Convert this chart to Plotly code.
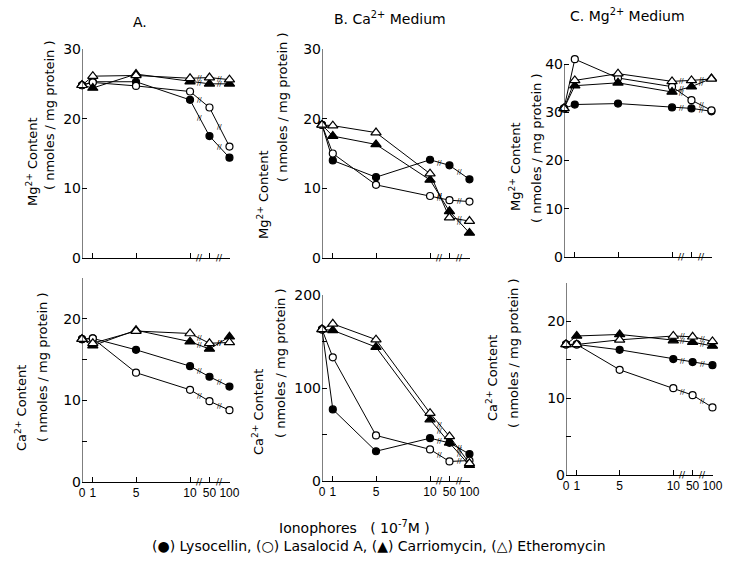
import plotly.graph_objects as go

# ---------------- data ----------------
concentrations = [0, 1, 5, 10, 50, 100]          # ionophores (10^-7 M)
tick_labels = ["0", "1", "5", "10", "50", "100"]
series_names = ["Lysocellin", "Lasalocid A", "Carriomycin", "Etheromycin"]

# Panel A (top: Mg2+ content)
a_mg_lysocellin = [24.8, 25.3, 25.3, 22.7, 17.5, 14.4]
a_mg_lasalocid = [24.8, 25.2, 24.7, 23.9, 21.6, 16.0]
a_mg_carriomycin = [24.8, 24.4, 26.4, 25.3, 25.0, 25.0]
a_mg_etheromycin = [24.8, 26.1, 26.2, 25.8, 25.9, 25.6]
# Panel A (bottom: Ca2+ content)
a_ca_lysocellin = [17.5, 17.6, 16.2, 14.2, 12.9, 11.7]
a_ca_lasalocid = [17.5, 17.6, 13.4, 11.3, 9.9, 8.8]
a_ca_carriomycin = [17.5, 16.7, 18.6, 17.2, 16.3, 17.8]
a_ca_etheromycin = [17.5, 17.0, 18.5, 18.2, 17.0, 17.1]

# Panel B, Ca2+ medium (top: Mg2+ content)
b_mg_lysocellin = [19.1, 14.0, 11.6, 14.1, 13.3, 11.3]
b_mg_lasalocid = [19.1, 15.0, 10.5, 8.9, 8.3, 8.1]
b_mg_carriomycin = [19.1, 17.5, 16.3, 11.2, 6.7, 3.6]
b_mg_etheromycin = [19.1, 19.0, 18.0, 12.1, 5.8, 5.3]
# Panel B (bottom: Ca2+ content)
b_ca_lysocellin = [163, 77, 32, 46, 41, 29]
b_ca_lasalocid = [163, 133, 49, 34, 21, 22]
b_ca_carriomycin = [163, 162, 144, 66, 41, 17]
b_ca_etheromycin = [163, 169, 152, 73, 48, 19]

# Panel C, Mg2+ medium (top: Mg2+ content)
c_mg_lysocellin = [30.8, 31.6, 31.8, 31.0, 30.8, 30.2]
c_mg_lasalocid = [30.8, 41.0, 37.1, 35.3, 32.5, 30.4]
c_mg_carriomycin = [30.8, 35.5, 36.1, 34.2, 35.3, 37.0]
c_mg_etheromycin = [30.8, 36.6, 38.0, 36.4, 36.6, 36.9]
# Panel C (bottom: Ca2+ content)
c_ca_lysocellin = [17.0, 17.0, 16.3, 15.1, 14.7, 14.3]
c_ca_lasalocid = [17.0, 17.0, 13.7, 11.3, 10.4, 8.8]
c_ca_carriomycin = [17.0, 18.1, 18.3, 17.5, 17.3, 16.8]
c_ca_etheromycin = [17.0, 17.0, 17.6, 18.1, 18.0, 17.4]

# ---------------- broken x scale ----------------
# linear from 0 to 10, then compressed segments after the axis breaks
BREAK_SCALE = {0: 0.0, 1: 1.0, 5: 5.0, 10: 10.0, 50: 11.8, 100: 13.65}


def xpos(values):
    return [BREAK_SCALE[v] for v in values]


FONT = "DejaVu Sans"
TICK_FONT = "Liberation Sans"
W, H = 734, 565

styles = {
    "Lysocellin": dict(symbol="circle", color="black", size=7),
    "Lasalocid A": dict(symbol="circle", color="white", size=7),
    "Carriomycin": dict(symbol="triangle-up", color="black", size=9),
    "Etheromycin": dict(symbol="triangle-up", color="white", size=9),
}

panels = [
    # (series, y range, axis-line top, y ticks, y tick text, x domain px, y px of (axis top, 0), show x labels)
    ([a_mg_lysocellin, a_mg_lasalocid, a_mg_carriomycin, a_mg_etheromycin],
     [0, 30], 30, [0, 10, 20, 30], ["0", "10", "20", "30"], (82, 230), (49, 258), False),
    ([b_mg_lysocellin, b_mg_lasalocid, b_mg_carriomycin, b_mg_etheromycin],
     [0, 30], 30, [0, 10, 20, 30], ["0", "10", "20", "30"], (322, 470), (49, 258), False),
    ([c_mg_lysocellin, c_mg_lasalocid, c_mg_carriomycin, c_mg_etheromycin],
     [0, 42], 40, [0, 10, 20, 30, 40], ["0", "10", "20", "30", "40"], (564, 712), (64, 257), False),
    ([a_ca_lysocellin, a_ca_lasalocid, a_ca_carriomycin, a_ca_etheromycin],
     [0, 25], 25, [0, 5, 10, 15, 20, 25], ["0", "", "10", "", "20", ""], (82, 230), (278, 482), True),
    ([b_ca_lysocellin, b_ca_lasalocid, b_ca_carriomycin, b_ca_etheromycin],
     [0, 200], 200, [0, 50, 100, 150, 200], ["0", "", "100", "", "200"], (322, 470), (295, 481), True),
    ([c_ca_lysocellin, c_ca_lasalocid, c_ca_carriomycin, c_ca_etheromycin],
     [0, 25], 25, [0, 5, 10, 15, 20, 25], ["0", "", "10", "", "20", ""], (566, 713), (283, 475), True),
]

fig = go.Figure()
layout = dict(width=W, height=H, margin=dict(l=0, r=0, t=0, b=0, autoexpand=False),
              paper_bgcolor="white", plot_bgcolor="rgba(0,0,0,0)", showlegend=False,
              font=dict(family=FONT, color="black"))
annotations = []
shapes = []

XMAX = BREAK_SCALE[100] + 0.05
xp = xpos(concentrations)

for i, (series, yr, ytop, ytv, ytt, (x0, x1), (yt, yb), showx) in enumerate(panels):
    n = i + 1
    xa = "x" if n == 1 else f"x{n}"
    ya = "y" if n == 1 else f"y{n}"
    xkey = "xaxis" if n == 1 else f"xaxis{n}"
    ykey = "yaxis" if n == 1 else f"yaxis{n}"
    # pixel position of the top of the range (axis line may stop below it)
    px_per_unit = (yb - yt) / ytop
    ytop_px = yb - yr[1] * px_per_unit
    layout[xkey] = dict(domain=[x0 / W, x1 / W], anchor=ya, range=[0, XMAX],
                        showline=True, linecolor="black", linewidth=1,
                        ticks="inside", ticklen=5, tickcolor="black",
                        tickvals=xp, ticktext=tick_labels, showticklabels=showx,
                        tickangle=0, ticklabeloverflow="allow",
                        tickfont=dict(size=12, family=TICK_FONT),
                        showgrid=False, zeroline=False)
    layout[ykey] = dict(domain=[1 - yb / H, 1 - ytop_px / H], anchor=xa, range=yr,
                        showline=False,
                        ticks="inside", ticklen=5, tickcolor="black",
                        tickvals=ytv, ticktext=ytt, tickfont=dict(size=14, family=FONT),
                        showgrid=False, zeroline=False)
    # y axis line from 0 up to the top labelled value
    shapes.append(dict(type="line", xref=xa, yref=ya, x0=0, x1=0, y0=0, y1=ytop,
                       line=dict(color="black", width=1)))
    for name, ys in zip(series_names, series):
        st = styles[name]
        fig.add_trace(go.Scatter(
            x=xp, y=ys, mode="lines+markers", name=name, xaxis=xa, yaxis=ya,
            cliponaxis=False,
            line=dict(color="black", width=1),
            marker=dict(symbol=st["symbol"], size=st["size"], color=st["color"],
                        line=dict(color="black", width=1.2))))
        # break marks on the connecting segments beyond 10
        for k in (3, 4):
            annotations.append(dict(
                x=(xp[k] + xp[k + 1]) / 2, y=(ys[k] + ys[k + 1]) / 2,
                xref=xa, yref=ya, text="//", showarrow=False,
                xanchor="center", yanchor="middle",
                font=dict(size=7, family=FONT, color="black")))
    # axis break marks
    for k in (3, 4):
        annotations.append(dict(
            x=(xp[k] + xp[k + 1]) / 2, y=0, xref=xa, yref=f"{ya} domain",
            text="//", showarrow=False, xanchor="center", yanchor="middle",
            font=dict(size=9, family=FONT, color="black")))

# y axis titles (two lines each)
ytitles = [
    ("Mg<sup>2+</sup> Content", 32, 162), ("( nmoles / mg protein )", 50, 115),
    ("Mg<sup>2+</sup> Content", 263, 195), ("( nmoles / mg protein )", 283, 107),
    ("Mg<sup>2+</sup> Content", 515, 167), ("( nmoles / mg protein )", 536, 148),
    ("Ca<sup>2+</sup> Content", 21, 408), ("( nmoles / mg protein )", 42, 367),
    ("Ca<sup>2+</sup> Content", 258, 412), ("( nmoles / mg protein )", 280, 363),
    ("Ca<sup>2+</sup> Content", 492, 378), ("( nmoles / mg protein )", 513, 353),
]
for txt, px, py in ytitles:
    annotations.append(dict(text=txt, x=px / W, y=1 - py / H, xref="paper", yref="paper",
                            textangle=-90, showarrow=False, xanchor="center", yanchor="middle",
                            font=dict(size=13, family=FONT)))

# panel titles
for txt, px, py in [("A.", 140, 22), ("B. Ca<sup>2+</sup> Medium", 390, 18),
                    ("C. Mg<sup>2+</sup> Medium", 627, 15)]:
    annotations.append(dict(text=txt, x=px / W, y=1 - py / H, xref="paper", yref="paper",
                            showarrow=False, xanchor="center", yanchor="middle",
                            font=dict(size=14, family=FONT)))

annotations.append(dict(text="Ionophores   ( 10<sup>-7</sup>M )", x=354 / W, y=1 - 527 / H,
                        xref="paper", yref="paper", showarrow=False,
                        xanchor="center", yanchor="middle",
                        font=dict(size=14, family=FONT)))
annotations.append(dict(text="(\u25CF) Lysocellin, (\u25CB) Lasalocid A, (\u25B2) Carriomycin, (\u25B3) Etheromycin",
                        x=379 / W, y=1 - 546 / H, xref="paper", yref="paper", showarrow=False,
                        xanchor="center", yanchor="middle",
                        font=dict(size=14, family=FONT)))

layout["annotations"] = annotations
layout["shapes"] = shapes
fig.update_layout(**layout)
fig.write_html("out.html", config={"displayModeBar": False},
               post_script="document.body.style.margin='0';document.body.style.overflow='hidden';")
